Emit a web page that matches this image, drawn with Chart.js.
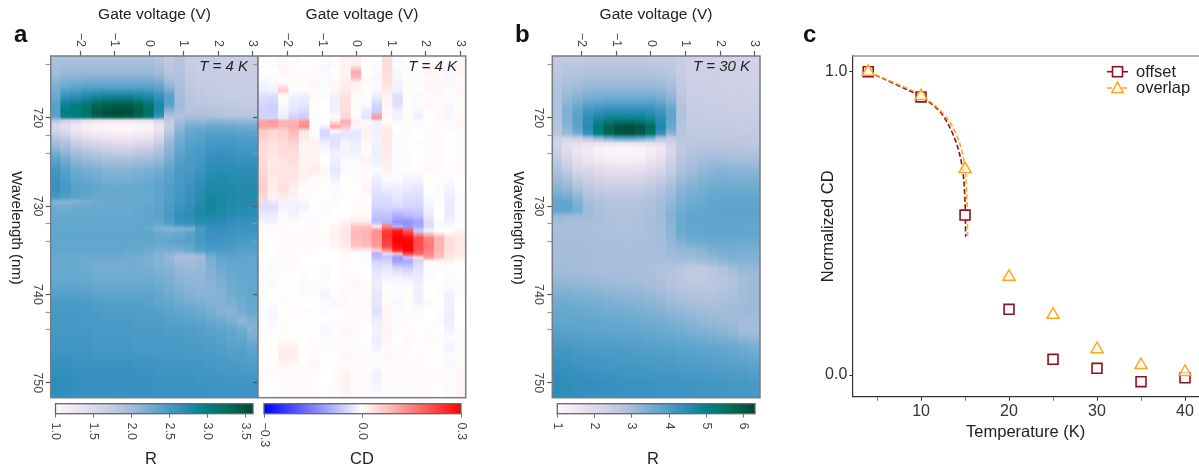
<!DOCTYPE html>
<html><head><meta charset="utf-8">
<style>html,body{margin:0;padding:0;background:#fff;width:1199px;height:470px;overflow:hidden}canvas{position:absolute;left:0;top:0}</style>
<script src="https://cdn.jsdelivr.net/npm/chart.js@4/dist/chart.umd.min.js"></script>
</head><body>
<script>
const gateVoltages=[-2.7,-2.4,-2.1,-1.8,-1.5,-1.2,-0.9,-0.6,-0.3,0,0.3,0.6,0.9,1.2,1.5,1.8,2.1,2.4,2.7,3.0];
const gateTicks=[-2,-1,0,1,2,3];
const wavelengthTicks=[714,720,722,724,730,732,734,740,742,744,750];
const wavelengthLabels=[720,730,740,750];

const wavelengthsA=[713,715,716.5,717.5,718.5,719.4,719.9,720.3,720.8,721.5,722.5,723.5,724.5,726,728,729,729.5,730,731,732,732.6,733,734,735,735.7,736.5,738,740,741,742,743,744,746,748,750,751.7];
const reflectanceA=[
[1.9,1.9,1.9,1.9,1.9,1.9,1.9,1.9,1.9,1.9,1.85,1.75,1.85,1.72,1.7,1.7,1.68,1.68,1.68,1.68],
[2,2.05,2.05,2.05,2.05,2.05,2.05,2.05,2.05,2.05,2,1.85,1.9,1.74,1.72,1.72,1.7,1.7,1.7,1.7],
[2.2,2.3,2.35,2.4,2.4,2.4,2.4,2.4,2.4,2.4,2.35,2.1,1.95,1.78,1.75,1.73,1.72,1.72,1.7,1.7],
[2.3,2.6,2.65,2.75,2.8,2.85,2.85,2.85,2.8,2.75,2.6,2.4,1.98,1.82,1.78,1.75,1.75,1.72,1.72,1.72],
[2.4,2.9,3,3.1,3.3,3.35,3.4,3.4,3.3,3.15,2.8,2.4,2,1.85,1.82,1.8,1.8,1.78,1.75,1.75],
[2.4,3,3.05,3.2,3.45,3.55,3.6,3.55,3.4,3.2,2.75,2.05,1.95,1.9,1.9,1.88,1.85,1.82,1.82,1.82],
[2.35,2.9,3,3.1,3.3,3.4,3.45,3.4,3.3,3.1,2.6,1.85,1.9,1.95,1.95,1.95,1.9,1.9,1.88,1.88],
[1.85,1.7,1.6,1.45,1.35,1.3,1.3,1.3,1.35,1.4,1.6,1.75,1.98,2.05,2.05,2.1,2.1,2.05,2.05,2.05],
[1.55,1.4,1.25,1.15,1.07,1.05,1.03,1.03,1.05,1.1,1.3,1.7,2.05,2.2,2.2,2.25,2.25,2.25,2.2,2.2],
[1.6,1.5,1.3,1.2,1.12,1.08,1.05,1.05,1.08,1.12,1.32,1.8,2.15,2.3,2.35,2.4,2.4,2.4,2.35,2.35],
[1.9,1.8,1.6,1.5,1.42,1.38,1.32,1.32,1.38,1.42,1.6,2,2.25,2.38,2.42,2.5,2.5,2.5,2.46,2.46],
[2.1,2,1.85,1.78,1.72,1.68,1.62,1.62,1.68,1.72,1.85,2.1,2.32,2.44,2.48,2.56,2.58,2.56,2.54,2.54],
[2.35,2.2,2.05,2,1.95,1.9,1.88,1.88,1.92,1.95,2.02,2.2,2.4,2.48,2.52,2.62,2.64,2.62,2.6,2.6],
[2.55,2.42,2.28,2.24,2.2,2.16,2.14,2.14,2.18,2.22,2.26,2.36,2.48,2.52,2.58,2.7,2.72,2.7,2.68,2.68],
[2.62,2.52,2.42,2.38,2.33,2.3,2.3,2.3,2.3,2.32,2.38,2.44,2.52,2.6,2.68,2.78,2.78,2.76,2.74,2.74],
[2.52,2.45,2.38,2.34,2.3,2.3,2.28,2.28,2.3,2.3,2.36,2.46,2.55,2.62,2.72,2.82,2.8,2.77,2.75,2.75],
[2.16,2.14,2.16,2.22,2.26,2.28,2.28,2.28,2.3,2.3,2.35,2.46,2.56,2.62,2.74,2.85,2.8,2.77,2.75,2.75],
[2.24,2.24,2.26,2.27,2.28,2.28,2.28,2.28,2.3,2.32,2.36,2.48,2.58,2.65,2.76,2.85,2.8,2.75,2.73,2.72],
[2.3,2.3,2.3,2.3,2.3,2.3,2.3,2.3,2.32,2.35,2.4,2.52,2.65,2.7,2.78,2.8,2.77,2.72,2.7,2.68],
[2.33,2.33,2.33,2.33,2.33,2.33,2.33,2.33,2.34,2.34,2.32,2.42,2.58,2.6,2.68,2.7,2.68,2.64,2.6,2.6],
[2.34,2.34,2.34,2.34,2.34,2.34,2.34,2.34,2.32,2.28,2.16,2.14,2.14,2.18,2.48,2.62,2.62,2.6,2.58,2.58],
[2.34,2.34,2.34,2.34,2.34,2.34,2.34,2.34,2.34,2.34,2.28,2.26,2.3,2.38,2.52,2.6,2.6,2.58,2.56,2.56],
[2.34,2.34,2.34,2.34,2.34,2.34,2.34,2.34,2.34,2.34,2.32,2.34,2.38,2.42,2.52,2.58,2.56,2.54,2.5,2.48],
[2.32,2.32,2.32,2.32,2.32,2.32,2.32,2.3,2.3,2.28,2.22,2.22,2.22,2.3,2.42,2.48,2.48,2.46,2.42,2.42],
[2.3,2.3,2.3,2.28,2.28,2.28,2.28,2.26,2.25,2.2,2.14,2.06,1.95,1.92,1.98,2.24,2.36,2.38,2.36,2.34],
[2.3,2.3,2.3,2.26,2.24,2.24,2.24,2.24,2.22,2.2,2.16,2.1,2.02,2,2.04,2.18,2.28,2.33,2.33,2.32],
[2.3,2.3,2.3,2.28,2.25,2.25,2.25,2.25,2.25,2.25,2.22,2.18,2.12,2.08,2.08,2.14,2.22,2.28,2.31,2.32],
[2.42,2.42,2.42,2.4,2.38,2.36,2.36,2.36,2.36,2.36,2.32,2.26,2.2,2.15,2.12,2.12,2.16,2.24,2.29,2.32],
[2.5,2.5,2.5,2.48,2.44,2.42,2.42,2.42,2.42,2.4,2.36,2.32,2.28,2.24,2.2,2.16,2.14,2.19,2.26,2.31],
[2.52,2.52,2.52,2.5,2.48,2.46,2.46,2.45,2.45,2.44,2.42,2.38,2.34,2.32,2.28,2.22,2.15,2.12,2.22,2.29],
[2.52,2.52,2.52,2.5,2.5,2.48,2.48,2.48,2.46,2.46,2.46,2.42,2.4,2.38,2.35,2.3,2.26,2.2,2.1,2.18],
[2.52,2.52,2.52,2.52,2.5,2.5,2.5,2.5,2.48,2.48,2.48,2.46,2.46,2.44,2.42,2.4,2.36,2.32,2.26,2.12],
[2.55,2.55,2.55,2.55,2.52,2.52,2.52,2.52,2.5,2.5,2.5,2.5,2.5,2.48,2.48,2.45,2.44,2.4,2.4,2.34],
[2.62,2.62,2.6,2.6,2.6,2.6,2.6,2.6,2.58,2.58,2.56,2.55,2.55,2.54,2.54,2.52,2.5,2.5,2.48,2.46],
[2.7,2.68,2.65,2.62,2.62,2.62,2.62,2.62,2.62,2.62,2.6,2.6,2.6,2.6,2.58,2.58,2.58,2.56,2.56,2.56],
[2.66,2.64,2.62,2.62,2.6,2.6,2.6,2.6,2.6,2.6,2.6,2.6,2.6,2.6,2.6,2.58,2.58,2.58,2.58,2.58]
];

const wavelengthsB=[713,715,716.5,718,719,720,721,721.8,722.3,722.9,723.5,724.5,726,728,729.5,730.5,731.2,732,733,734,735,736,737,738,739,740,741,742,743,744,745,746,748,750,751.7];
const reflectanceB=[
[2.55,2.55,2.55,2.55,2.55,2.55,2.55,2.55,2.55,2.55,2.5,2.45,2.4,2.3,2.3,2.3,2.3,2.3,2.3,2.3],
[2.65,2.75,2.75,2.8,2.8,2.8,2.8,2.8,2.8,2.8,2.75,2.7,2.5,2.35,2.35,2.35,2.32,2.32,2.3,2.3],
[2.8,3,3.05,3.15,3.15,3.15,3.15,3.15,3.15,3.15,3.1,3,2.6,2.4,2.4,2.38,2.36,2.36,2.34,2.34],
[2.85,3.2,3.4,3.6,3.65,3.7,3.7,3.7,3.7,3.7,3.6,3.3,2.7,2.42,2.42,2.4,2.4,2.38,2.38,2.38],
[2.85,3.4,3.7,4.1,4.2,4.3,4.3,4.3,4.3,4.3,4.1,3.7,2.8,2.45,2.45,2.44,2.44,2.42,2.42,2.42],
[2.8,3.4,3.85,4.4,4.7,4.85,4.9,4.9,4.85,4.7,4.4,3.75,2.8,2.48,2.48,2.48,2.48,2.46,2.46,2.46],
[2.75,3.3,3.8,4.5,5.2,5.8,6.1,6.2,6,5.6,4.6,3.65,2.75,2.52,2.52,2.52,2.52,2.52,2.5,2.5],
[2.7,3.1,3.5,4.3,5,5.7,6,6.1,5.9,5.4,4.3,3.3,2.7,2.58,2.58,2.58,2.56,2.56,2.55,2.55],
[2.4,2.3,2.4,2.8,3.2,3.6,3.9,3.9,3.8,3.5,2.8,2.5,2.65,2.62,2.62,2.62,2.6,2.6,2.6,2.6],
[2.25,1.9,1.8,1.7,1.6,1.55,1.55,1.55,1.6,1.7,1.9,2.3,2.6,2.66,2.68,2.68,2.66,2.66,2.64,2.64],
[2.3,1.9,1.55,1.4,1.2,1.12,1.08,1.08,1.12,1.3,1.5,2.1,2.6,2.72,2.76,2.78,2.76,2.74,2.72,2.72],
[2.5,2.1,1.75,1.55,1.35,1.25,1.2,1.2,1.25,1.45,1.7,2.25,2.72,2.86,2.95,2.98,2.98,2.94,2.92,2.92],
[2.85,2.6,2.2,2.1,1.95,1.85,1.8,1.8,1.85,2,2.2,2.5,2.88,3.05,3.2,3.3,3.34,3.3,3.28,3.28],
[3.3,3.2,2.9,2.65,2.5,2.45,2.45,2.45,2.5,2.6,2.75,3,3.3,3.4,3.5,3.6,3.62,3.6,3.6,3.6],
[3.75,3.7,3.4,3,2.85,2.8,2.75,2.75,2.8,2.85,3,3.2,3.45,3.55,3.62,3.7,3.72,3.72,3.72,3.72],
[3.75,3.75,3.5,3.1,2.9,2.85,2.8,2.8,2.85,2.9,3.05,3.3,3.55,3.65,3.7,3.75,3.78,3.78,3.78,3.78],
[3.15,3.05,3.05,3.02,2.95,2.88,2.85,2.85,2.88,2.92,3.05,3.35,3.62,3.7,3.72,3.76,3.76,3.78,3.76,3.76],
[2.95,2.95,2.95,2.92,2.9,2.88,2.86,2.86,2.88,2.92,3,3.3,3.65,3.72,3.72,3.75,3.75,3.75,3.72,3.72],
[2.95,2.95,2.95,2.92,2.9,2.88,2.86,2.86,2.88,2.92,3,3.25,3.6,3.7,3.7,3.72,3.72,3.72,3.7,3.7],
[2.98,2.98,2.98,2.96,2.94,2.92,2.92,2.9,2.92,2.95,3,3.2,3.4,3.55,3.6,3.62,3.62,3.62,3.6,3.6],
[3,3,3,2.98,2.96,2.95,2.95,2.94,2.94,2.95,2.98,3.08,3.16,3.2,3.28,3.45,3.5,3.5,3.46,3.46],
[3,3,3,2.98,2.96,2.95,2.95,2.94,2.94,2.94,2.95,3,3.02,3.02,3.1,3.2,3.32,3.4,3.38,3.36],
[3.02,3.02,3,2.98,2.96,2.95,2.95,2.94,2.92,2.9,2.85,2.8,2.68,2.6,2.6,2.72,2.85,3.05,3.16,3.16],
[3.1,3.1,3.08,3.05,3.02,3,3,2.98,2.96,2.92,2.86,2.76,2.65,2.58,2.58,2.64,2.72,2.88,3.02,3.08],
[3.25,3.25,3.22,3.2,3.16,3.12,3.1,3.08,3.05,3,2.92,2.82,2.72,2.66,2.64,2.66,2.72,2.85,3,3.06],
[3.45,3.45,3.42,3.4,3.35,3.3,3.26,3.22,3.2,3.14,3.05,2.95,2.86,2.82,2.78,2.78,2.84,2.92,3.02,3.08],
[3.58,3.58,3.56,3.52,3.48,3.44,3.4,3.36,3.32,3.28,3.2,3.1,3.02,2.96,2.9,2.9,2.94,3,3.05,3.1],
[3.68,3.66,3.64,3.62,3.58,3.56,3.54,3.5,3.46,3.42,3.35,3.28,3.2,3.12,3.05,3.02,3.02,3.05,3.08,3.1],
[3.76,3.74,3.72,3.7,3.68,3.66,3.64,3.6,3.58,3.55,3.5,3.42,3.35,3.28,3.2,3.15,3.1,3.05,3,3.02],
[3.85,3.82,3.8,3.78,3.76,3.74,3.72,3.7,3.68,3.64,3.6,3.56,3.5,3.42,3.35,3.3,3.24,3.15,3,2.98],
[3.98,3.95,3.92,3.9,3.88,3.86,3.84,3.82,3.8,3.76,3.72,3.7,3.66,3.6,3.55,3.5,3.45,3.38,3.25,3.18],
[4.12,4.1,4.06,4.02,4,3.98,3.96,3.95,3.92,3.9,3.88,3.85,3.82,3.8,3.75,3.72,3.68,3.62,3.55,3.5],
[4.28,4.26,4.22,4.18,4.16,4.14,4.12,4.1,4.08,4.08,4.06,4.04,4,3.98,3.95,3.92,3.9,3.88,3.85,3.8],
[4.45,4.42,4.38,4.34,4.32,4.3,4.28,4.26,4.25,4.24,4.22,4.2,4.2,4.18,4.16,4.14,4.12,4.1,4.08,4.05],
[4.4,4.38,4.34,4.3,4.3,4.28,4.26,4.25,4.24,4.24,4.22,4.2,4.2,4.18,4.16,4.16,4.14,4.12,4.1,4.08]
];

const wavelengthsCD=[713,714,714.8,715.5,716,716.9,717.5,718.5,719.3,720,720.4,721,721.5,722,723,724,725,726,727,728,729,730,731,731.8,732.3,732.8,733.6,734.5,735,735.4,735.8,736.3,737,738,739,740,741,742,743,744,745,746,747,748,749,750,751.7];
const circularDichroism=[
[0,.005,.01,.01,.005,0,-.005,0,.015,.015,.005,0,.04,-.005,0,0,.01,.005,0,.01],
[.005,-.005,.01,.005,0,.005,-.01,-.005,.015,.02,0,-.005,.04,-.005,.005,0,.01,.005,-.005,.01],
[.005,0,.01,.005,.005,.005,-.01,0,.015,.1,0,-.005,.04,-.01,.005,-.005,.015,.005,-.01,.01],
[-.005,-.005,.005,.005,.005,.005,-.005,.005,.015,.08,.005,-.01,.035,-.01,.005,-.005,.005,.01,-.01,.005],
[-.015,-.01,.005,.005,.005,.01,-.005,.01,.02,.015,.005,-.005,.035,-.015,.005,-.005,.01,.01,-.01,.005],
[-.02,-.015,.06,-.005,-.005,.005,-.005,.01,.025,.015,.005,-.01,.025,-.015,.005,0,.01,.01,-.005,.01],
[-.04,-.04,-.005,-.015,-.02,.01,-.005,-.015,.035,.005,.005,-.02,.015,-.04,.005,-.01,.005,.01,-.005,.005],
[-.05,-.055,-.005,-.025,-.03,.005,0,-.02,.04,.005,-.005,-.05,.015,-.04,.005,-.005,.01,.005,-.01,.005],
[-.055,-.055,-.015,-.035,-.045,.005,0,-.015,.04,.005,-.025,-.06,.005,-.015,.005,-.01,.005,.005,-.01,.005],
[-.05,-.05,-.02,-.055,-.06,-.005,-.005,-.005,.05,.005,-.035,.13,.005,-.015,.005,-.02,0,.005,-.01,.005],
[.11,.12,.09,.09,.12,-.005,0,.03,.1,.02,-.005,-.02,0,-.005,.005,-.005,.005,.005,-.005,.01],
[.11,.11,.085,.1,.14,.005,-.015,.11,.07,.005,.015,-.015,.02,0,.005,-.005,.005,.005,-.005,.01],
[.06,.045,.055,.085,.03,.005,-.05,-.005,-.03,-.025,.015,-.015,.025,0,.005,0,.005,.005,-.005,.005],
[.06,.045,.055,.07,.025,.005,-.045,-.035,-.03,-.03,.015,-.015,.025,-.005,.005,0,.005,.005,0,.005],
[.045,.035,.04,.05,.015,.015,-.015,-.035,-.01,-.02,.005,-.015,.025,-.005,.005,-.005,.005,.005,0,.005],
[.04,.03,.04,.04,.015,.015,-.005,-.015,-.015,-.015,.005,-.02,.025,-.005,.005,0,.005,.005,0,.005],
[.045,.025,.03,.04,.015,.015,0,-.02,-.005,-.005,.015,-.015,.02,-.005,.005,0,.005,.005,0,.005],
[.045,.03,.03,.03,.015,.025,.01,-.03,-.005,-.005,.005,-.005,.015,-.005,.005,.005,.01,.005,.005,.005],
[.055,.025,.03,.03,.015,.005,.005,-.015,0,-.005,.005,-.02,-.005,-.005,-.015,-.015,0,.005,-.005,0],
[.06,.02,.04,.02,.005,.005,.005,-.005,.005,0,.015,-.03,-.02,-.02,-.025,-.03,0,.005,-.015,0],
[.045,.015,.02,.015,.005,.005,0,-.005,.005,.005,.005,-.04,-.04,-.03,-.04,-.04,-.005,.005,-.02,-.005],
[-.04,-.04,-.015,-.015,-.015,0,-.005,-.005,0,.005,.005,-.05,-.05,-.04,-.05,-.05,-.015,0,-.025,-.005],
[-.025,-.025,-.005,-.015,-.005,-.005,-.005,0,0,.005,.005,-.07,-.07,-.09,-.08,-.07,-.025,0,-.025,-.005],
[-.015,-.015,-.005,-.005,-.005,-.005,0,0,.015,.025,.025,-.08,-.09,-.13,-.13,-.11,-.04,-.005,-.015,-.005],
[.005,.005,.005,0,.005,.005,.005,.015,.025,.07,.07,.03,.15,-.09,-.12,-.1,-.04,-.005,-.005,0],
[.005,.005,.005,.005,.005,.005,.005,.015,.03,.08,.09,.13,.23,.27,.2,-.06,-.015,0,0,.015],
[.005,.005,.005,.005,.005,.005,.005,.015,.03,.08,.09,.13,.24,.3,.29,.21,.15,.09,.035,.025],
[.005,0,.005,.005,.005,.005,.005,.015,.025,.07,.08,.12,.22,.29,.3,.21,.16,.09,.04,.025],
[.005,0,.005,.005,.005,.005,0,.005,.015,.025,.025,.055,.14,.26,.3,.2,.15,.09,.04,.025],
[0,0,.005,.005,.005,0,0,0,.005,0,-.005,-.09,-.04,.08,.22,.18,.14,.08,.035,.025],
[0,-.005,.005,.005,0,0,0,0,.005,0,-.005,-.08,-.07,-.12,-.07,.05,.12,.07,.03,.015],
[0,-.005,.005,.005,0,0,0,0,.005,0,-.005,-.05,-.05,-.11,-.1,-.05,-.005,.005,.015,.005],
[0,-.005,.005,.005,0,-.005,-.005,0,.005,.005,0,-.035,-.03,-.05,-.06,-.035,-.005,.005,0,0],
[-.005,-.005,.005,0,-.005,0,-.005,0,.005,.005,0,-.025,-.015,-.015,-.025,-.025,-.005,0,-.005,.005],
[0,-.005,0,.005,-.005,-.005,-.005,.005,.005,.01,.005,-.02,.005,-.005,-.005,-.015,0,.005,-.005,.005],
[-.005,0,.005,0,-.005,.005,-.015,-.005,.01,.005,.005,-.03,.005,-.005,.005,-.02,0,.005,-.015,.005],
[0,-.005,.005,.005,0,0,-.005,-.01,.005,.005,.01,-.03,.005,-.01,.005,-.015,-.005,0,-.015,0],
[-.005,-.01,0,.005,-.005,.005,-.005,0,.005,.005,.005,-.035,.01,-.005,.005,-.005,0,.005,-.02,0],
[0,-.01,.005,.005,0,.005,0,-.005,.005,.005,.005,-.02,.01,-.005,.005,.005,0,-.005,-.02,0],
[.005,-.005,.005,0,-.005,0,-.01,.005,.01,.005,0,-.015,.015,.005,.005,0,.005,0,-.015,.005],
[.005,0,.005,.005,0,.005,-.005,.005,.005,.005,.005,-.02,.01,0,.005,.005,.005,.005,-.005,.005],
[0,.005,.02,.015,.005,.005,-.005,-.005,.005,-.005,.005,-.015,.005,-.005,.005,0,.005,0,-.015,.005],
[.005,0,.025,.02,0,.005,0,.005,.01,.005,.005,-.005,.01,.005,.005,.005,0,.005,-.005,.005],
[0,.005,.01,.005,.005,.01,.005,.005,.005,.005,.005,-.005,.005,-.005,.005,.005,.005,.005,-.01,.005],
[-.005,-.005,.005,.005,.005,.005,0,.005,.015,.005,.005,-.015,.005,.005,.005,.005,.005,.005,-.005,.01],
[.005,0,.005,.005,.005,.005,0,.005,.015,.005,.005,-.015,.005,-.005,.005,.005,.005,.005,-.005,.01],
[0,-.005,.005,.005,.005,.005,.005,.005,.01,.005,.005,-.005,.005,.005,.005,.005,.005,0,-.005,.01]
];

const colorbarATicks=[1.0,1.5,2.0,2.5,3.0,3.5];
const colorbarBTicks=[1,2,3,4,5,6];
const colorbarCDTicks=[-0.3,0,0.3];

const temperatures=[4,10,15,20,25,30,35,40];
const offsetCD=[1,0.917,0.5275,0.2166,0.0517,0.022,-0.022,-0.009];
const overlapCD=[1,0.92,0.679,0.324,0.199,0.085,0.033,0.01];
const offsetFitT=[4,6.86,10,12.16,13.67,14.58,14.96,15.07];
const offsetFitCD=[1,0.962,0.917,0.868,0.791,0.703,0.599,0.456];
const overlapFitT=[4,6.86,10,12.5,14.05,14.92,15.2,15.3];
const overlapFitCD=[1,0.965,0.922,0.863,0.791,0.698,0.588,0.458];

const FONT='"Liberation Sans", Arial, sans-serif';
const MAROON='#8a1220', ORANGE='#ffa61a';
const PUBUGN=['#fff7fb','#ece2f0','#d0d1e6','#a6bddb','#67a9cf','#3690c0','#02818a','#016c59','#014636'];
const BWR=['#0000ff','#ffffff','#ff0000'];
function hex(c){return [1,3,5].map(i=>parseInt(c.substr(i,2),16));}
function cmap(stops,t){t=Math.max(0,Math.min(1,t));const p=t*(stops.length-1),i=Math.min(stops.length-2,Math.floor(p)),f=p-i,a=hex(stops[i]),b=hex(stops[i+1]);return 'rgb('+a.map((v,k)=>Math.round(v+(b[k]-v)*f)).join(',')+')';}

function newCanvas(){const c=document.createElement('canvas');c.width=1199;c.height=470;c.style.width='1199px';c.style.height='470px';document.body.appendChild(c);return c;}
function rotText(ctx,text,x,y,angle,align,font,color,base){ctx.save();ctx.translate(x,y);ctx.rotate(angle);ctx.font=font;ctx.fillStyle=color;ctx.textAlign=align;ctx.textBaseline=base||'middle';ctx.fillText(text,0,0);ctx.restore();}
const minus=v=>String(v).replace('-','\u2212');
const CW=Math.PI/2;

function heatmap(cfg){
  const {L,R,T,B,wl,matrix,stops,vmin,vmax}=cfg;
  const lo=713,hi=713+(B-T)/8.83;
  const columnGradient=ctx=>{
    const chart=ctx.chart,y=chart.scales.y;
    if(ctx.dataIndex===undefined||!y) return '#fff';
    const y0=y.getPixelForValue(wl[0]),y1=y.getPixelForValue(wl[wl.length-1]);
    if(!isFinite(y0)||!isFinite(y1)) return '#fff';
    const g=chart.ctx.createLinearGradient(0,y0,0,y1);
    wl.forEach((w,r)=>g.addColorStop((w-wl[0])/(wl[wl.length-1]-wl[0]),cmap(stops,(matrix[r][ctx.dataIndex]-vmin)/(vmax-vmin))));
    return g;
  };
  new Chart(newCanvas(),{
    type:'bar',
    data:{datasets:[{data:gateVoltages.map(v=>({x:v,y:[wl[0],wl[wl.length-1]]})),backgroundColor:columnGradient,barPercentage:1.13,categoryPercentage:1,borderWidth:0}]},
    options:{responsive:false,animation:false,events:[],
      layout:{padding:{left:L-6,top:T-6,right:1199-R,bottom:470-B}},
      plugins:{legend:{display:false},tooltip:{enabled:false}},
      scales:{
        x:{type:'linear',position:'top',offset:false,min:-2.85,max:3.15,
          afterBuildTicks:s=>{s.ticks=gateTicks.map(v=>({value:v}));},
          afterFit:s=>{s.height=6;},
          ticks:{display:false,autoSkip:false},
          grid:{drawOnChartArea:false,tickLength:5,tickColor:'#555',tickWidth:1.2,offset:false},border:{display:false}},
        y:{type:'linear',reverse:true,min:lo,max:hi,
          afterBuildTicks:s=>{s.ticks=wavelengthTicks.map(v=>({value:v}));},
          afterFit:s=>{s.width=6;},
          ticks:{display:false,autoSkip:false},
          grid:{drawOnChartArea:false,tickLength:5,tickColor:c=>(c.tick.value%10===0?'#555':'#999'),tickWidth:1.2},border:{display:false}}
      }
    },
    plugins:[{id:'panelText',afterDraw(chart){
      const c=chart.ctx,a=chart.chartArea;
      c.save();c.strokeStyle='#777c80';c.lineWidth=1.5;c.strokeRect(a.left,a.top,a.right-a.left,a.bottom-a.top);c.restore();
      gateTicks.forEach(v=>rotText(c,minus(v),chart.scales.x.getPixelForValue(v),47,CW,'right','12.5px '+FONT,'#444'));
      if(cfg.yLabels) wavelengthLabels.forEach(v=>rotText(c,String(v),L-13.5,chart.scales.y.getPixelForValue(v),CW,'center','12.5px '+FONT,'#444'));
      c.font='15.5px '+FONT;c.fillStyle='#222';c.textAlign='center';c.textBaseline='middle';
      c.fillText('Gate voltage (V)',cfg.titleX,14.5);
      if(cfg.yLabels) rotText(c,'Wavelength (nm)',L-34.5,228,CW,'center','15px '+FONT,'#222');
      c.font='italic 15px '+FONT;c.fillStyle='#222';c.textAlign='right';c.fillText(cfg.label,cfg.labelX,66.5);
    }}]
  });
}

function colorbar(cfg){
  const {L,R,T,B,ticks,stops,vmin,vmax,title,titleX,fmt}=cfg;
  const grad=ctx=>{
    const chart=ctx.chart,x=chart.scales.x;
    if(!x) return '#fff';
    const x0=x.getPixelForValue(vmin),x1=x.getPixelForValue(vmax);
    if(!isFinite(x0)||!isFinite(x1)) return '#fff';
    const g=chart.ctx.createLinearGradient(x0,0,x1,0);
    stops.forEach((s,i)=>g.addColorStop(i/(stops.length-1),s));
    return g;
  };
  new Chart(newCanvas(),{
    type:'bar',
    data:{labels:[title],datasets:[{data:[[vmin,vmax]],backgroundColor:grad,barPercentage:1,categoryPercentage:1,borderWidth:0}]},
    options:{indexAxis:'y',responsive:false,animation:false,events:[],
      layout:{padding:{left:L,top:T,right:1199-R,bottom:470-B-6}},
      plugins:{legend:{display:false},tooltip:{enabled:false}},
      scales:{
        x:{type:'linear',position:'bottom',min:vmin,max:vmax,
          afterBuildTicks:s=>{s.ticks=ticks.map(v=>({value:v}));},
          afterFit:s=>{s.height=6;},
          ticks:{display:false,autoSkip:false},
          grid:{drawOnChartArea:false,tickLength:4,tickColor:'#777',tickWidth:1},border:{display:false}},
        y:{display:false}
      }
    },
    plugins:[{id:'barText',afterDraw(chart){
      const c=chart.ctx,a=chart.chartArea;
      c.save();c.strokeStyle='#666';c.lineWidth=1.3;c.strokeRect(a.left,a.top,a.right-a.left,a.bottom-a.top);c.restore();
      ticks.forEach(v=>rotText(c,minus(fmt(v)),chart.scales.x.getPixelForValue(v),422.5,CW,'left','12.5px '+FONT,'#444'));
      c.font='16.5px '+FONT;c.fillStyle='#222';c.textAlign='center';c.textBaseline='middle';c.fillText(title,titleX,459);
    }}]
  });
}

heatmap({L:50.7,R:258,T:56,B:397.7,wl:wavelengthsA,matrix:reflectanceA,stops:PUBUGN,vmin:1,vmax:3.6,yLabels:true,titleX:154.5,label:'T = 4 K',labelX:248});
heatmap({L:258,R:465.7,T:56,B:397.7,wl:wavelengthsCD,matrix:circularDichroism,stops:BWR,vmin:-0.3,vmax:0.3,yLabels:false,titleX:362,label:'T = 4 K',labelX:457});
heatmap({L:552.3,R:760,T:56,B:397.7,wl:wavelengthsB,matrix:reflectanceB,stops:PUBUGN,vmin:1,vmax:6.3,yLabels:true,titleX:656,label:'T = 30 K',labelX:750});
colorbar({L:55.5,R:253,T:403.7,B:413.7,ticks:colorbarATicks,stops:PUBUGN,vmin:1,vmax:3.6,title:'R',titleX:151,fmt:v=>v.toFixed(1)});
colorbar({L:264,R:461,T:403.7,B:413.7,ticks:colorbarCDTicks,stops:BWR,vmin:-0.3,vmax:0.3,title:'CD',titleX:362,fmt:v=>v.toFixed(1)});
colorbar({L:557.3,R:755,T:403.7,B:413.7,ticks:colorbarBTicks,stops:PUBUGN,vmin:1,vmax:6.3,title:'R',titleX:653,fmt:v=>String(v)});

const pts=(xs,ys)=>xs.map((x,i)=>({x,y:ys[i]}));
new Chart(newCanvas(),{
  type:'scatter',
  data:{datasets:[
    {label:'offset fit',data:pts(offsetFitT,offsetFitCD),showLine:true,tension:0.35,borderColor:MAROON,borderDash:[5,2.5],borderWidth:1.6,pointRadius:0,order:4},
    {label:'overlap fit',data:pts(overlapFitT,overlapFitCD),showLine:true,tension:0.35,borderColor:ORANGE,borderDash:[5,2.5],borderWidth:1.6,pointRadius:0,order:3},
    {label:'offset',data:pts(temperatures,offsetCD),pointStyle:'rect',pointRadius:7,pointBorderWidth:1.6,pointBorderColor:MAROON,pointBackgroundColor:'#fff',order:2},
    {label:'overlap',data:pts(temperatures,overlapCD),pointStyle:'triangle',pointRadius:7,pointBorderWidth:1.5,pointBorderColor:ORANGE,pointBackgroundColor:'rgba(255,255,255,0.75)',order:1}
  ]},
  options:{responsive:false,animation:false,events:[],clip:false,
    layout:{autoPadding:false,padding:{left:819,top:56,right:0,bottom:470-396.7-45.6}},
    plugins:{legend:{display:false},tooltip:{enabled:false}},
    scales:{
      x:{type:'linear',min:2.19,max:41.59,
        afterBuildTicks:s=>{s.ticks=[5,10,15,20,25,30,35,40].map(v=>({value:v}));},
        afterFit:s=>{s.height=45.6;},
        title:{display:true,text:'Temperature (K)',font:{family:FONT,size:16.5},color:'#222',padding:{top:0,bottom:0}},
        ticks:{autoSkip:false,maxRotation:0,padding:1,color:'#333',font:{family:FONT,size:16},callback:v=>(v%10===0?String(v):'')},
        grid:{drawOnChartArea:false,tickLength:4,tickColor:c=>(c.tick.value%10===0?'#333':'#777')},border:{color:'#333',width:1.2}},
      y:{type:'linear',min:-0.0715,max:1.052,
        afterBuildTicks:s=>{s.ticks=[0,1].map(v=>({value:v}));},
        afterFit:s=>{s.width=33.3;},
        title:{display:true,text:'Normalized CD',font:{family:FONT,size:16.5},color:'#222',padding:{top:0,bottom:0}},
        ticks:{autoSkip:false,padding:2,color:'#333',font:{family:FONT,size:16},callback:v=>Number(v).toFixed(1)},
        grid:{drawOnChartArea:false,tickLength:3,tickColor:'#333'},border:{color:'#333',width:1.2}}
    }
  },
  plugins:[{id:'legendAndLetters',afterDraw(chart){
    const c=chart.ctx,a=chart.chartArea;
    c.save();c.strokeStyle='#999';c.lineWidth=1.5;c.beginPath();c.moveTo(a.left,a.top);c.lineTo(a.right,a.top);c.stroke();
    c.lineWidth=1.6;
    c.strokeStyle=MAROON;c.setLineDash([]);c.beginPath();c.moveTo(1107,71.7);c.lineTo(1128,71.7);c.stroke();
    c.fillStyle='#fff';c.fillRect(1112.5,66.7,10,10);c.strokeRect(1112.5,66.7,10,10);
    c.strokeStyle=ORANGE;c.setLineDash([5,2.5]);c.beginPath();c.moveTo(1107,88);c.lineTo(1128,88);c.stroke();
    c.setLineDash([]);c.fillStyle='#fff';c.beginPath();c.moveTo(1117.5,82);c.lineTo(1123,92.5);c.lineTo(1112,92.5);c.closePath();c.fill();c.stroke();
    c.fillStyle='#222';c.font='16.5px '+FONT;c.textAlign='left';c.textBaseline='middle';
    c.fillText('offset',1136,72);c.fillText('overlap',1136,88);
    c.fillStyle='#111';c.font='bold 24px '+FONT;
    c.fillText('a',14,35);c.fillText('b',515,35);c.fillText('c',803,35);
    c.restore();
  }}]
});
</script>
</body></html>
